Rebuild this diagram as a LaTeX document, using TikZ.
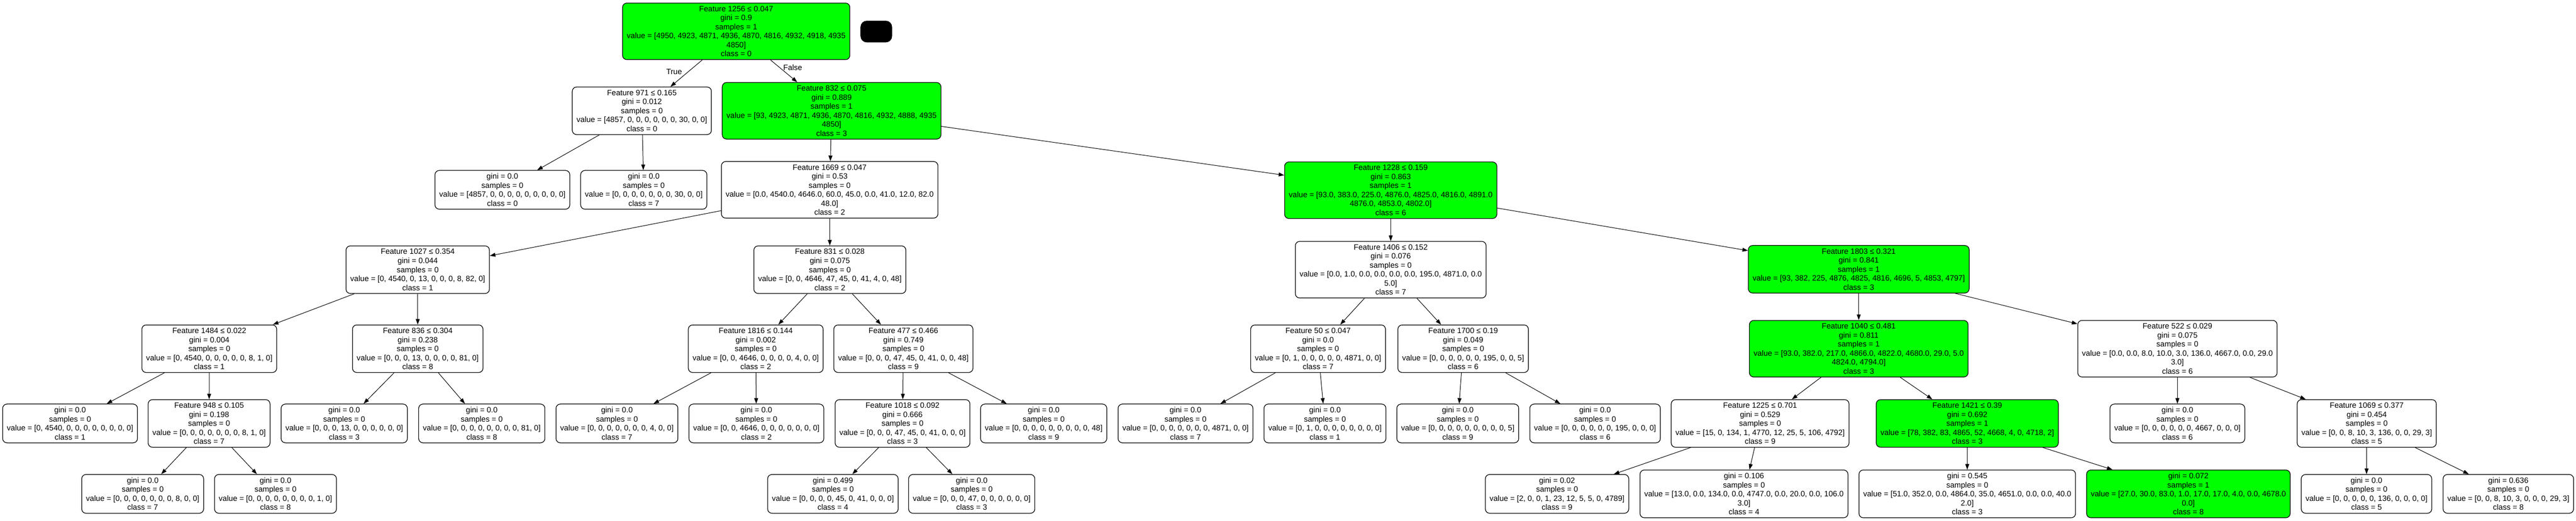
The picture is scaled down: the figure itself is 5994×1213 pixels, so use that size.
\documentclass[tikz,border=0pt]{standalone}
\usepackage{fontspec}
\setmainfont{Liberation Sans}
\usetikzlibrary{arrows.meta}
\definecolor{splitgreen}{RGB}{0,255,0}
\begin{document}
\begin{tikzpicture}[x=1pt,y=-1pt,font=\fontsize{18}{21}\selectfont,
    box/.style={draw,rounded corners=10pt,line width=1.5pt,align=center,inner xsep=10pt,inner ysep=7pt},
    hot/.style={box,fill=splitgreen}]
      \useasboundingbox (0,0) rectangle (5994,1213);
      \draw
        (1713,73) node[hot] (0){Feature 1256 ≤ 0.047\\gini = 0.9\\samples = 1\\value = [4950, 4923, 4871, 4936, 4870, 4816, 4932, 4918, 4935\\4850]\\class = 0}
        (2039,73.5) node[box,fill=black,minimum width=72pt,minimum height=49pt,inner sep=0pt,rounded corners=14pt] (blank){}
        (1493.5,258) node[box] (1){Feature 971 ≤ 0.165\\gini = 0.012\\samples = 0\\value = [4857, 0, 0, 0, 0, 0, 0, 30, 0, 0]\\class = 0}
        (1169,442) node[box] (2){gini = 0.0\\samples = 0\\value = [4857, 0, 0, 0, 0, 0, 0, 0, 0, 0]\\class = 0}
        (1498,442) node[box] (3){gini = 0.0\\samples = 0\\value = [0, 0, 0, 0, 0, 0, 0, 30, 0, 0]\\class = 7}
        (1935,258) node[hot] (4){Feature 832 ≤ 0.075\\gini = 0.889\\samples = 1\\value = [93, 4923, 4871, 4936, 4870, 4816, 4932, 4888, 4935\\4850]\\class = 3}
        (1930.5,442) node[box] (5){Feature 1669 ≤ 0.047\\gini = 0.53\\samples = 0\\value = [0.0, 4540.0, 4646.0, 60.0, 45.0, 0.0, 41.0, 12.0, 82.0\\48.0]\\class = 2}
        (972,628) node[box] (6){Feature 1027 ≤ 0.354\\gini = 0.044\\samples = 0\\value = [0, 4540, 0, 13, 0, 0, 0, 8, 82, 0]\\class = 1}
        (487,812) node[box] (7){Feature 1484 ≤ 0.022\\gini = 0.004\\samples = 0\\value = [0, 4540, 0, 0, 0, 0, 0, 8, 1, 0]\\class = 1}
        (163,986) node[box] (8){gini = 0.0\\samples = 0\\value = [0, 4540, 0, 0, 0, 0, 0, 0, 0, 0]\\class = 1}
        (486.5,986) node[box] (9){Feature 948 ≤ 0.105\\gini = 0.198\\samples = 0\\value = [0, 0, 0, 0, 0, 0, 0, 8, 1, 0]\\class = 7}
        (332,1150) node[box] (10){gini = 0.0\\samples = 0\\value = [0, 0, 0, 0, 0, 0, 0, 8, 0, 0]\\class = 7}
        (641,1150) node[box] (11){gini = 0.0\\samples = 0\\value = [0, 0, 0, 0, 0, 0, 0, 0, 1, 0]\\class = 8}
        (972,812) node[box] (12){Feature 836 ≤ 0.304\\gini = 0.238\\samples = 0\\value = [0, 0, 0, 13, 0, 0, 0, 0, 81, 0]\\class = 8}
        (801,986) node[box] (13){gini = 0.0\\samples = 0\\value = [0, 0, 0, 13, 0, 0, 0, 0, 0, 0]\\class = 3}
        (1121,986) node[box] (14){gini = 0.0\\samples = 0\\value = [0, 0, 0, 0, 0, 0, 0, 0, 81, 0]\\class = 8}
        (1931,628) node[box] (15){Feature 831 ≤ 0.028\\gini = 0.075\\samples = 0\\value = [0, 0, 4646, 47, 45, 0, 41, 4, 0, 48]\\class = 2}
        (1758.5,812) node[box] (16){Feature 1816 ≤ 0.144\\gini = 0.002\\samples = 0\\value = [0, 0, 4646, 0, 0, 0, 0, 4, 0, 0]\\class = 2}
        (1435.5,986) node[box] (17){gini = 0.0\\samples = 0\\value = [0, 0, 0, 0, 0, 0, 0, 4, 0, 0]\\class = 7}
        (1760,986) node[box] (18){gini = 0.0\\samples = 0\\value = [0, 0, 4646, 0, 0, 0, 0, 0, 0, 0]\\class = 2}
        (2102,812) node[box] (19){Feature 477 ≤ 0.466\\gini = 0.749\\samples = 0\\value = [0, 0, 0, 47, 45, 0, 41, 0, 0, 48]\\class = 9}
        (2100,986) node[box] (20){Feature 1018 ≤ 0.092\\gini = 0.666\\samples = 0\\value = [0, 0, 0, 47, 45, 0, 41, 0, 0, 0]\\class = 3}
        (1938,1150) node[box] (21){gini = 0.499\\samples = 0\\value = [0, 0, 0, 0, 45, 0, 41, 0, 0, 0]\\class = 4}
        (2261,1150) node[box] (22){gini = 0.0\\samples = 0\\value = [0, 0, 0, 47, 0, 0, 0, 0, 0, 0]\\class = 3}
        (2428.5,986) node[box] (23){gini = 0.0\\samples = 0\\value = [0, 0, 0, 0, 0, 0, 0, 0, 0, 48]\\class = 9}
        (3236,443) node[hot] (24){Feature 1228 ≤ 0.159\\gini = 0.863\\samples = 1\\value = [93.0, 383.0, 225.0, 4876.0, 4825.0, 4816.0, 4891.0\\4876.0, 4853.0, 4802.0]\\class = 6}
        (3236,628) node[box] (25){Feature 1406 ≤ 0.152\\gini = 0.076\\samples = 0\\value = [0.0, 1.0, 0.0, 0.0, 0.0, 0.0, 195.0, 4871.0, 0.0\\5.0]\\class = 7}
        (3067,812) node[box] (26){Feature 50 ≤ 0.047\\gini = 0.0\\samples = 0\\value = [0, 1, 0, 0, 0, 0, 0, 4871, 0, 0]\\class = 7}
        (2758.5,986) node[box] (27){gini = 0.0\\samples = 0\\value = [0, 0, 0, 0, 0, 0, 0, 4871, 0, 0]\\class = 7}
        (3083,986) node[box] (28){gini = 0.0\\samples = 0\\value = [0, 1, 0, 0, 0, 0, 0, 0, 0, 0]\\class = 1}
        (3404.5,812) node[box] (29){Feature 1700 ≤ 0.19\\gini = 0.049\\samples = 0\\value = [0, 0, 0, 0, 0, 0, 195, 0, 0, 5]\\class = 6}
        (3392,986) node[box] (30){gini = 0.0\\samples = 0\\value = [0, 0, 0, 0, 0, 0, 0, 0, 0, 5]\\class = 9}
        (3711.5,986) node[box] (31){gini = 0.0\\samples = 0\\value = [0, 0, 0, 0, 0, 0, 195, 0, 0, 0]\\class = 6}
        (4325,627) node[hot] (32){Feature 1803 ≤ 0.321\\gini = 0.841\\samples = 1\\value = [93, 382, 225, 4876, 4825, 4816, 4696, 5, 4853, 4797]\\class = 3}
        (4325,812) node[hot] (33){Feature 1040 ≤ 0.481\\gini = 0.811\\samples = 1\\value = [93.0, 382.0, 217.0, 4866.0, 4822.0, 4680.0, 29.0, 5.0\\4824.0, 4794.0]\\class = 3}
        (4095.5,986) node[box] (34){Feature 1225 ≤ 0.701\\gini = 0.529\\samples = 0\\value = [15, 0, 134, 1, 4770, 12, 25, 5, 106, 4792]\\class = 9}
        (3623,1150) node[box] (35){gini = 0.02\\samples = 0\\value = [2, 0, 0, 1, 23, 12, 5, 5, 0, 4789]\\class = 9}
        (4058,1150) node[box] (36){gini = 0.106\\samples = 0\\value = [13.0, 0.0, 134.0, 0.0, 4747.0, 0.0, 20.0, 0.0, 106.0\\3.0]\\class = 4}
        (4577.5,986) node[hot] (37){Feature 1421 ≤ 0.39\\gini = 0.692\\samples = 1\\value = [78, 382, 83, 4865, 52, 4668, 4, 0, 4718, 2]\\class = 3}
        (4577.5,1150) node[box] (38){gini = 0.545\\samples = 0\\value = [51.0, 352.0, 0.0, 4864.0, 35.0, 4651.0, 0.0, 0.0, 40.0\\2.0]\\class = 3}
        (5092,1150) node[hot] (39){gini = 0.072\\samples = 1\\value = [27.0, 30.0, 83.0, 1.0, 17.0, 17.0, 4.0, 0.0, 4678.0\\0.0]\\class = 8}
        (5066.5,812) node[box] (40){Feature 522 ≤ 0.029\\gini = 0.075\\samples = 0\\value = [0.0, 0.0, 8.0, 10.0, 3.0, 136.0, 4667.0, 0.0, 29.0\\3.0]\\class = 6}
        (5066.5,986) node[box] (41){gini = 0.0\\samples = 0\\value = [0, 0, 0, 0, 0, 0, 4667, 0, 0, 0]\\class = 6}
        (5507,986) node[box] (42){Feature 1069 ≤ 0.377\\gini = 0.454\\samples = 0\\value = [0, 0, 8, 10, 3, 136, 0, 0, 29, 3]\\class = 5}
        (5506.5,1150) node[box] (43){gini = 0.0\\samples = 0\\value = [0, 0, 0, 0, 0, 136, 0, 0, 0, 0]\\class = 5}
        (5836.5,1150) node[box] (44){gini = 0.636\\samples = 0\\value = [0, 0, 8, 10, 3, 0, 0, 0, 29, 3]\\class = 8};
      \begin{scope}[-{Triangle[length=13pt,width=9pt]},line width=1.2pt]
        \draw (0) to node[pos=0.45,left=10pt]{True} (1);
        \draw (0) to node[pos=0.35,right=4pt]{False} (4);
        \draw (1) to (2);
        \draw (1) to (3);
        \draw (4) to (5);
        \draw (4) to (24);
        \draw (5) to (6);
        \draw (5) to (15);
        \draw (6) to (7);
        \draw (6) to (12);
        \draw (7) to (8);
        \draw (7) to (9);
        \draw (9) to (10);
        \draw (9) to (11);
        \draw (12) to (13);
        \draw (12) to (14);
        \draw (15) to (16);
        \draw (15) to (19);
        \draw (16) to (17);
        \draw (16) to (18);
        \draw (19) to (20);
        \draw (19) to (23);
        \draw (20) to (21);
        \draw (20) to (22);
        \draw (24) to (25);
        \draw (24) to (32);
        \draw (25) to (26);
        \draw (25) to (29);
        \draw (26) to (27);
        \draw (26) to (28);
        \draw (29) to (30);
        \draw (29) to (31);
        \draw (32) to (33);
        \draw (32) to (40);
        \draw (33) to (34);
        \draw (33) to (37);
        \draw (34) to (35);
        \draw (34) to (36);
        \draw (37) to (38);
        \draw (37) to (39);
        \draw (40) to (41);
        \draw (40) to (42);
        \draw (42) to (43);
        \draw (42) to (44);
      \end{scope}
    \end{tikzpicture}
\end{document}
